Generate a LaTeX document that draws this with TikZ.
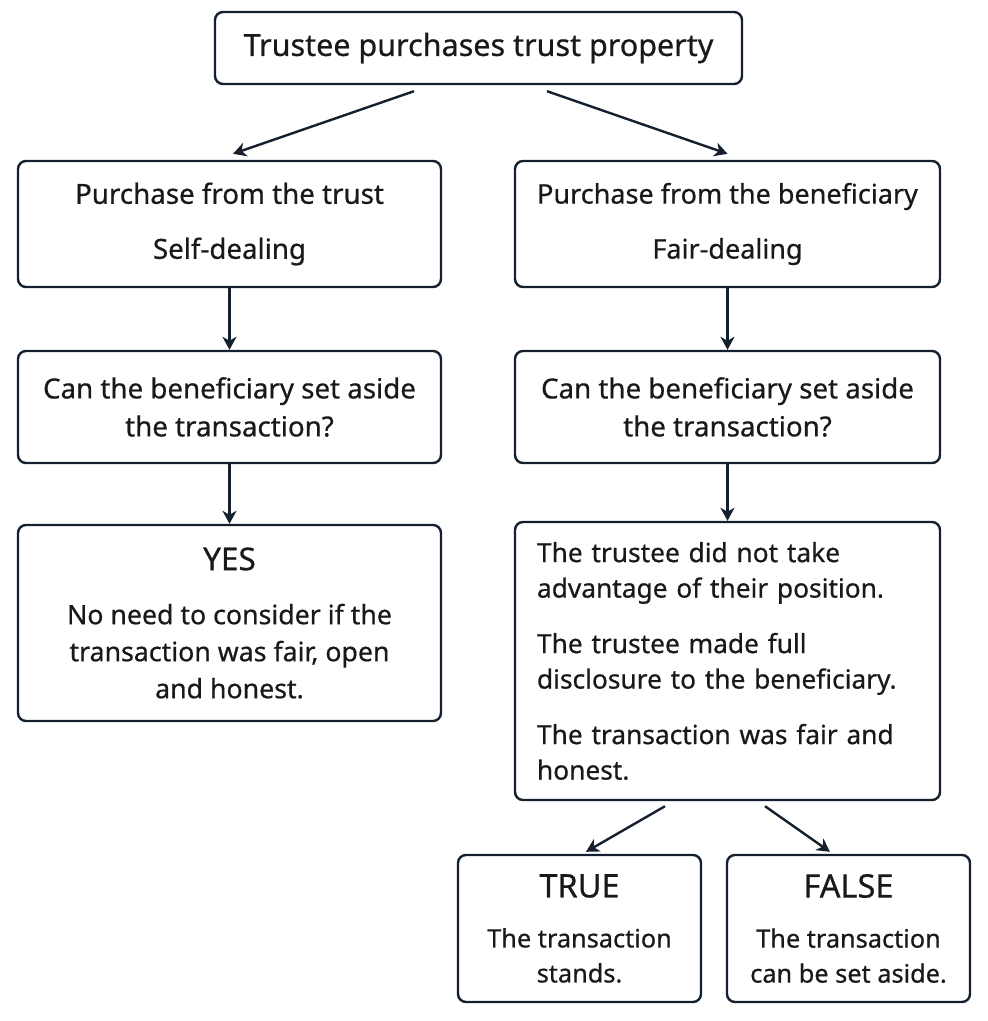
\documentclass[tikz,border=0pt]{standalone}
\usepackage{fontspec}
\setmainfont{Noto Sans}[FakeBold=0.6]
\usetikzlibrary{arrows.meta}
\definecolor{ink}{HTML}{14202E}
\newcommand{\fs}[2]{\fontsize{#1}{#2}\selectfont}
\tikzset{
  box/.style={draw=ink, line width=2.4pt, rounded corners=8pt, inner sep=0pt,
    align=center, text=black!90, font=\fs{27.7}{38}},
  arr/.style={draw=ink, line width=2.4pt, -{Stealth[length=13pt,width=14pt,inset=4pt]}}
}
\begin{document}
\begin{tikzpicture}[x=1pt,y=-1pt]
    \useasboundingbox (0,0) rectangle (988,1021);
    \node[box, minimum width=527pt, minimum height=72pt, font=\fs{30.5}{34}] (top) at (478.5,48) {Trustee purchases trust property};
    \node[box, minimum width=423pt, minimum height=126pt] (self) at (229.5,224) {Purchase from the trust\\[17pt]Self-dealing};
    \node[box, minimum width=425pt, minimum height=126pt, font=\fs{27}{38}] (fair) at (727.5,224) {Purchase from the beneficiary\\[17pt]Fair-dealing};
    \node[box, minimum width=423pt, minimum height=112pt] (askl) at (229.5,407) {Can the beneficiary set aside\\the transaction?};
    \node[box, minimum width=425pt, minimum height=112pt] (askr) at (727.5,407) {Can the beneficiary set aside\\the transaction?};
    \node[box, minimum width=423pt, minimum height=196pt, font=\fs{26.7}{37}] (yes) at (229.5,623) {{\fs{31.5}{37}YES}\\[17pt]No need to consider if the\\transaction was fair, open\\and honest.};
    \node[box, minimum width=425pt, minimum height=278pt, align=left, text width=381pt, inner xsep=22pt,
        font=\fs{26.3}{35.5}] (tests) at (727.5,661)
        {The trustee did not take\\advantage of their position.\\[20pt]The trustee made full\\disclosure to the beneficiary.\\[20pt]The transaction was fair and\\honest.};
    \node[box, minimum width=243pt, minimum height=147pt, font=\fs{25.3}{35}] (true) at (579.5,928.5) {{\fs{32.5}{35}TRUE}\\[15pt]The transaction\\stands.};
    \node[box, minimum width=243pt, minimum height=147pt, font=\fs{25.3}{35}] (false) at (848.5,928.5) {{\fs{32.5}{35}FALSE}\\[15pt]The transaction\\can be set aside.};
    \draw[arr] ([xshift=-64.5pt,yshift=-6pt]top.south) -- ([xshift=3.5pt,yshift=6pt]self.north);
    \draw[arr] ([xshift=68.5pt,yshift=-6pt]top.south) -- ([yshift=6pt]fair.north);
    \draw[arr] (self) -- (askl);
    \draw[arr] (fair) -- (askr);
    \draw[arr] (askl) -- (yes);
    \draw[arr] (askr) -- (tests);
    \draw[arr] ([xshift=-62.5pt,yshift=-5pt]tests.south) -- ([xshift=6.5pt,yshift=2pt]true.north);
    \draw[arr] ([xshift=37.5pt,yshift=-5pt]tests.south) -- ([xshift=-18.5pt,yshift=2pt]false.north);
\end{tikzpicture}
\end{document}
